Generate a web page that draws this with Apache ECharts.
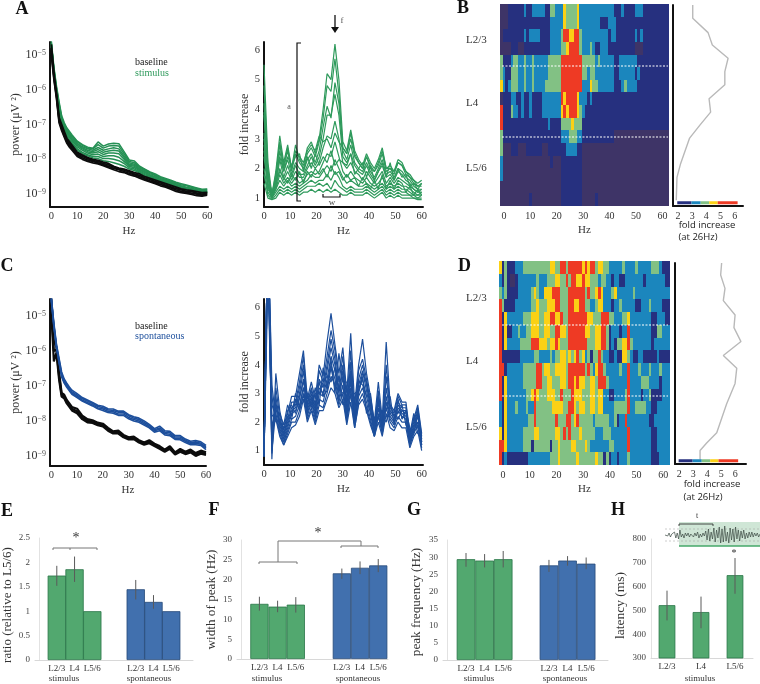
<!DOCTYPE html>
<html><head><meta charset="utf-8">
<style>html,body{margin:0;padding:0;background:#fff}#c{width:760px;height:684px}</style>
<script src="https://cdn.jsdelivr.net/npm/echarts@6/dist/echarts.min.js"></script>
</head><body><div id="c"></div>
<script>
// ---------- DATA ----------
const psdHz=[0,1,2,3,4,5,6,7,8,10,12,14,16,18,20,22,24,26,28,30,32,34,36,38,40,42,44,46,48,50,52,54,56,58,60];
const foldHz=[0,1.5,3,4.5,6,7.5,9,10.5,12,13.5,15,16.5,18,19.5,21,22.5,24,25.5,27,28.5,30,31.5,33,34.5,36,37.5,39,40.5,42,43.5,45,46.5,48,49.5,51,52.5,54,55.5,57,58.5,60];
const logTicks=[-9,-8,-7,-6,-5];
const foldTicks=[1,2,3,4,5,6];
const hzTicks=[0,10,20,30,40,50,60];
const profTicks=[2,3,4,5,6];

// A left: log10 power, stimulus (green) and baseline (black)
const aStim=[
[-4.6,-5.35,-5.9,-6.35,-6.75,-6.95,-7.1,-7.2,-7.3,-7.48,-7.58,-7.65,-7.68,-7.5,-7.62,-7.56,-7.54,-7.55,-7.78,-8.02,-8.05,-8.2,-8.28,-8.36,-8.42,-8.5,-8.55,-8.6,-8.66,-8.7,-8.74,-8.78,-8.82,-8.86,-8.85],
[-4.65,-5.4,-5.95,-6.4,-6.8,-7.0,-7.12,-7.24,-7.34,-7.5,-7.6,-7.68,-7.7,-7.58,-7.68,-7.62,-7.6,-7.62,-7.84,-8.06,-8.1,-8.22,-8.3,-8.38,-8.45,-8.52,-8.58,-8.63,-8.68,-8.73,-8.76,-8.8,-8.84,-8.88,-8.87],
[-4.7,-5.42,-6.0,-6.45,-6.85,-7.03,-7.16,-7.27,-7.37,-7.54,-7.64,-7.7,-7.74,-7.66,-7.74,-7.7,-7.67,-7.7,-7.9,-8.1,-8.14,-8.25,-8.33,-8.41,-8.47,-8.55,-8.6,-8.66,-8.71,-8.76,-8.8,-8.83,-8.87,-8.9,-8.9],
[-4.68,-5.45,-6.02,-6.5,-6.88,-7.06,-7.2,-7.3,-7.4,-7.56,-7.67,-7.74,-7.78,-7.72,-7.8,-7.76,-7.74,-7.76,-7.95,-8.14,-8.17,-8.28,-8.36,-8.44,-8.5,-8.58,-8.63,-8.68,-8.73,-8.78,-8.82,-8.85,-8.89,-8.92,-8.92],
[-4.72,-5.48,-6.05,-6.55,-6.9,-7.1,-7.24,-7.33,-7.44,-7.6,-7.7,-7.78,-7.82,-7.78,-7.86,-7.82,-7.82,-7.84,-8.0,-8.17,-8.2,-8.3,-8.38,-8.46,-8.52,-8.6,-8.65,-8.7,-8.75,-8.8,-8.84,-8.86,-8.9,-8.94,-8.93],
[-4.7,-5.5,-6.08,-6.6,-6.94,-7.13,-7.28,-7.37,-7.47,-7.64,-7.74,-7.82,-7.87,-7.85,-7.92,-7.9,-7.9,-7.94,-8.06,-8.2,-8.24,-8.33,-8.41,-8.48,-8.55,-8.62,-8.67,-8.72,-8.77,-8.82,-8.85,-8.88,-8.92,-8.95,-8.95],
[-4.75,-5.52,-6.1,-6.65,-6.97,-7.16,-7.33,-7.42,-7.52,-7.7,-7.8,-7.87,-7.92,-7.92,-7.98,-7.98,-8.0,-8.04,-8.12,-8.24,-8.28,-8.36,-8.44,-8.5,-8.57,-8.63,-8.69,-8.74,-8.78,-8.83,-8.87,-8.89,-8.93,-8.96,-8.95],
[-4.72,-5.55,-6.12,-6.7,-7.0,-7.18,-7.36,-7.46,-7.56,-7.74,-7.84,-7.9,-7.96,-7.98,-8.04,-8.06,-8.1,-8.14,-8.2,-8.28,-8.32,-8.39,-8.47,-8.53,-8.59,-8.64,-8.7,-8.75,-8.8,-8.84,-8.88,-8.9,-8.94,-8.97,-8.96]];
const aBase=[
[-4.7,-5.5,-6.1,-6.8,-7.0,-7.2,-7.4,-7.5,-7.6,-7.8,-7.88,-7.95,-8.0,-8.03,-8.08,-8.12,-8.2,-8.25,-8.28,-8.33,-8.38,-8.42,-8.5,-8.55,-8.6,-8.65,-8.7,-8.75,-8.8,-8.85,-8.88,-8.9,-8.93,-8.96,-8.95],
[-4.8,-5.6,-6.15,-6.85,-7.08,-7.27,-7.45,-7.55,-7.65,-7.84,-7.92,-7.98,-8.04,-8.06,-8.12,-8.16,-8.22,-8.28,-8.31,-8.36,-8.42,-8.46,-8.53,-8.58,-8.64,-8.68,-8.74,-8.79,-8.84,-8.88,-8.92,-8.93,-8.97,-9.0,-8.98],
[-4.9,-5.65,-6.2,-6.9,-7.13,-7.32,-7.5,-7.6,-7.7,-7.88,-7.96,-8.02,-8.06,-8.1,-8.15,-8.2,-8.26,-8.3,-8.35,-8.4,-8.45,-8.5,-8.56,-8.62,-8.67,-8.72,-8.77,-8.82,-8.88,-8.92,-8.95,-8.97,-9.0,-9.03,-9.0],
[-5.0,-5.7,-6.25,-6.95,-7.18,-7.36,-7.54,-7.65,-7.74,-7.92,-8.0,-8.06,-8.1,-8.13,-8.18,-8.24,-8.3,-8.35,-8.38,-8.44,-8.48,-8.54,-8.6,-8.65,-8.7,-8.76,-8.8,-8.86,-8.92,-8.96,-8.98,-9.01,-9.04,-9.06,-9.03]];

// A right: fold increase, stimulus
const aFold=[
[5.5,2.2,1.1,1.9,3.1,2.2,2.8,2.0,2.8,2.3,2.1,2.7,2.9,2.5,3.0,4.0,5.2,5.0,6.2,5.0,2.9,2.6,3.3,2.6,2.3,2.1,2.5,2.2,2.0,2.3,2.7,2.0,2.1,1.9,2.3,2.2,1.9,1.8,1.6,1.5,1.6],
[4.8,2.0,1.0,1.7,2.9,2.0,2.6,1.9,2.5,2.2,2.0,2.5,2.7,2.4,2.9,3.7,4.8,4.6,5.7,4.5,2.7,2.5,3.0,2.4,2.2,2.0,2.4,2.0,1.9,2.1,2.5,1.9,2.0,1.8,2.2,2.1,1.8,1.7,1.5,1.4,1.4],
[4.2,1.8,1.1,1.5,2.6,1.9,2.3,1.8,2.2,2.0,1.9,2.3,2.5,2.2,2.6,3.4,4.1,3.7,4.9,4.2,2.6,2.3,2.8,2.2,2.0,1.9,2.2,1.9,1.7,2.0,2.3,1.8,1.9,1.7,2.0,1.9,1.7,1.6,1.4,1.3,1.5],
[3.9,1.7,1.0,1.4,2.3,1.7,2.1,1.7,2.1,1.8,1.8,2.1,2.4,2.1,2.4,3.0,3.8,3.8,4.5,3.8,2.4,2.2,2.5,2.1,1.9,1.8,2.1,1.8,1.6,1.9,2.1,1.7,1.8,1.6,1.9,1.8,1.6,1.5,1.3,1.2,1.3],
[3.8,1.9,1.1,1.8,2.8,2.1,2.7,2.0,2.6,2.4,2.2,2.6,2.8,2.6,3.1,2.9,3.0,2.7,3.2,2.9,2.7,2.5,3.2,2.5,2.2,2.0,2.4,2.1,1.9,2.2,2.6,2.0,2.0,1.9,2.2,2.1,1.9,1.7,1.6,1.4,1.5],
[3.2,1.5,1.1,1.4,2.0,1.6,1.9,1.6,1.9,1.7,1.7,2.0,2.2,2.0,2.2,2.7,3.1,3.0,3.6,3.0,2.2,2.0,2.2,1.9,1.8,1.6,1.9,1.7,1.5,1.7,1.9,1.5,1.7,1.5,1.7,1.6,1.5,1.4,1.3,1.2,1.2],
[3.0,1.7,1.2,1.6,2.4,1.9,2.4,2.1,2.4,2.5,1.9,2.4,2.0,2.5,2.1,2.4,2.2,2.6,2.1,2.3,2.2,2.1,2.5,1.8,2.0,2.2,1.7,2.1,1.6,1.9,2.2,1.7,2.2,1.6,2.0,1.7,1.8,1.4,1.5,1.3,1.3],
[2.8,1.4,1.0,1.3,1.8,1.5,1.7,1.5,1.7,1.5,1.6,1.8,1.9,1.8,1.9,2.2,2.5,2.4,2.9,2.4,1.9,1.7,1.9,1.7,1.6,1.5,1.7,1.5,1.4,1.5,1.7,1.4,1.5,1.4,1.5,1.4,1.4,1.3,1.2,1.1,1.2],
[2.6,1.5,1.0,1.5,1.9,1.7,1.5,1.8,1.6,1.9,1.5,1.9,1.7,2.0,1.8,2.0,1.7,2.1,1.8,1.9,1.6,1.8,1.6,1.7,1.4,1.7,1.5,1.3,1.6,1.3,1.8,1.3,1.6,1.3,1.6,1.5,1.2,1.4,1.1,1.3,1.1],
[2.4,1.3,1.1,1.3,1.6,1.4,1.6,1.4,1.5,1.4,1.5,1.6,1.8,1.7,1.7,1.9,2.1,1.9,2.3,2.0,1.7,1.5,1.6,1.5,1.4,1.4,1.5,1.4,1.3,1.4,1.5,1.3,1.4,1.3,1.4,1.3,1.3,1.2,1.1,1.1,1.1],
[2.0,1.2,1.0,1.2,1.4,1.3,1.4,1.3,1.4,1.3,1.4,1.5,1.6,1.5,1.6,1.6,1.8,1.6,1.9,1.7,1.4,1.3,1.4,1.3,1.3,1.3,1.4,1.3,1.2,1.3,1.4,1.2,1.3,1.2,1.3,1.2,1.2,1.1,1.1,1.0,1.1],
[1.8,1.1,0.95,1.1,1.3,1.2,1.3,1.2,1.3,1.2,1.3,1.4,1.4,1.4,1.5,1.4,1.5,1.3,1.6,1.4,1.3,1.2,1.3,1.2,1.2,1.2,1.3,1.2,1.1,1.2,1.3,1.1,1.2,1.1,1.2,1.1,1.1,1.1,1.0,1.0,1.0],
[1.5,1.0,0.95,1.0,1.2,1.1,1.2,1.1,1.2,1.1,1.2,1.2,1.3,1.2,1.3,1.2,1.3,1.2,1.3,1.2,1.1,1.1,1.2,1.1,1.1,1.1,1.2,1.1,1.0,1.1,1.2,1.0,1.1,1.0,1.1,1.0,1.0,1.0,1.0,0.95,0.95]];

// C left: log10 power, spontaneous (blue) and baseline (black)
const cSpon=[
[-4.45,-5.2,-5.8,-6.2,-6.6,-6.8,-6.92,-7.03,-7.12,-7.22,-7.33,-7.4,-7.47,-7.55,-7.58,-7.65,-7.66,-7.72,-7.72,-7.82,-7.88,-7.92,-8.0,-8.1,-8.22,-8.15,-8.28,-8.3,-8.42,-8.42,-8.52,-8.58,-8.56,-8.6,-8.7],
[-4.5,-5.25,-5.85,-6.25,-6.65,-6.84,-6.96,-7.07,-7.16,-7.26,-7.36,-7.43,-7.5,-7.58,-7.62,-7.68,-7.7,-7.75,-7.76,-7.85,-7.92,-7.96,-8.04,-8.13,-8.25,-8.2,-8.32,-8.34,-8.46,-8.46,-8.55,-8.62,-8.6,-8.64,-8.74],
[-4.55,-5.3,-5.88,-6.3,-6.7,-6.88,-7.0,-7.1,-7.2,-7.3,-7.4,-7.47,-7.54,-7.62,-7.66,-7.72,-7.74,-7.8,-7.8,-7.9,-7.96,-8.0,-8.08,-8.17,-8.28,-8.24,-8.36,-8.38,-8.5,-8.5,-8.58,-8.65,-8.64,-8.67,-8.78],
[-4.5,-5.28,-5.9,-6.33,-6.74,-6.92,-7.04,-7.14,-7.24,-7.33,-7.43,-7.5,-7.57,-7.65,-7.7,-7.76,-7.78,-7.84,-7.84,-7.94,-8.0,-8.04,-8.12,-8.2,-8.32,-8.28,-8.4,-8.42,-8.53,-8.54,-8.62,-8.68,-8.68,-8.7,-8.82]];
const cBase=[
[-4.5,-5.7,-5.9,-6.6,-7.2,-7.25,-7.4,-7.5,-7.6,-7.65,-7.85,-7.95,-7.98,-8.05,-8.08,-8.2,-8.3,-8.28,-8.4,-8.47,-8.45,-8.55,-8.62,-8.55,-8.65,-8.72,-8.82,-8.72,-8.9,-8.8,-8.88,-8.82,-8.92,-8.85,-8.9],
[-4.7,-6.0,-5.95,-6.7,-7.25,-7.3,-7.45,-7.55,-7.65,-7.72,-7.9,-8.0,-8.02,-8.08,-8.12,-8.24,-8.33,-8.32,-8.44,-8.5,-8.49,-8.58,-8.65,-8.6,-8.68,-8.76,-8.85,-8.76,-8.93,-8.84,-8.92,-8.86,-8.96,-8.9,-8.94],
[-4.9,-6.3,-6.05,-6.8,-7.3,-7.35,-7.5,-7.6,-7.7,-7.78,-7.95,-8.04,-8.06,-8.12,-8.16,-8.28,-8.36,-8.36,-8.47,-8.53,-8.52,-8.62,-8.68,-8.64,-8.72,-8.8,-8.88,-8.8,-8.96,-8.88,-8.95,-8.9,-9.0,-8.94,-8.97]];

// C right: fold increase, spontaneous
const cFold=[
[1.0,9,0.7,3.7,2.4,1.7,2.3,2.9,2.9,3.7,4.5,2.8,3.4,2.8,4.0,3.6,4.8,5.8,4.7,3.7,4.6,3.0,5.1,2.6,4.0,4.9,3.7,2.9,2.0,3.4,2.1,4.8,2.6,2.4,3.0,2.7,2.7,1.6,2.1,2.6,1.6],
[0.9,9,0.9,3.2,2.2,1.6,2.1,2.7,2.7,3.4,4.3,2.6,3.2,2.6,3.8,3.4,4.3,5.2,4.5,3.4,4.3,2.7,4.5,2.3,3.8,4.2,3.5,2.7,1.8,3.1,1.9,4.0,2.5,2.3,2.9,2.6,2.6,1.5,2.0,2.5,1.5],
[0.8,8,1.2,2.9,2.0,1.5,2.0,2.5,2.6,3.2,4.0,2.5,3.0,2.4,3.5,3.2,4.0,4.9,4.2,3.1,4.0,2.5,4.1,2.1,3.5,4.0,3.3,2.5,1.7,2.9,1.8,3.6,2.4,2.2,2.7,2.5,2.5,1.4,1.9,2.4,1.4],
[0.9,9,1.0,2.4,2.3,1.9,2.6,2.2,3.0,2.5,3.2,2.9,2.5,3.2,2.6,3.9,3.2,4.2,3.0,4.4,3.4,3.4,2.9,3.0,3.1,3.7,3.4,2.6,2.1,2.4,2.4,2.4,2.9,1.9,2.8,2.1,2.4,1.8,1.6,2.3,1.3],
[0.9,9,1.5,2.7,1.9,1.4,1.9,2.4,2.5,3.0,3.8,2.4,2.9,2.3,3.2,3.0,3.8,4.6,4.0,3.0,3.8,2.3,3.8,2.0,3.3,3.8,3.1,2.4,1.6,2.7,1.7,3.2,2.3,2.1,2.6,2.4,2.4,1.3,1.8,2.3,1.3],
[0.8,8,1.6,2.6,2.0,1.8,2.4,2.6,2.3,2.9,3.4,3.0,2.6,3.0,3.0,3.4,3.6,3.4,3.9,3.2,3.0,3.1,3.3,2.7,3.4,3.3,2.9,3.0,1.9,2.8,2.0,2.2,2.3,2.4,2.3,2.6,1.9,1.6,2.3,1.8,1.4],
[0.8,7,1.8,2.5,1.8,1.3,1.8,2.3,2.4,2.8,3.5,2.3,2.8,2.2,3.0,2.9,3.5,4.3,3.8,2.8,3.6,2.2,3.5,1.9,3.1,3.5,2.9,2.3,1.6,2.5,1.7,2.9,2.2,2.0,2.5,2.3,2.2,1.3,1.8,2.2,1.2],
[0.9,9,2.9,2.0,2.1,1.5,2.2,2.1,2.8,2.4,2.9,2.7,3.1,2.5,3.4,2.9,3.1,3.9,3.2,3.6,2.6,2.8,3.6,2.4,3.0,3.6,2.3,2.8,1.8,2.2,2.2,2.0,2.6,2.2,2.1,2.4,2.3,1.4,2.2,1.6,1.5],
[0.9,9,2.2,2.3,1.7,1.3,1.7,2.1,2.2,2.6,3.2,2.2,2.7,2.1,2.8,2.7,3.3,4.0,3.5,2.7,3.3,2.1,3.2,1.9,2.9,3.2,2.7,2.1,1.5,2.3,1.6,2.7,2.1,1.9,2.4,2.2,2.1,1.2,1.7,2.0,1.2],
[0.8,8,2.6,2.2,1.6,1.2,1.6,2.0,2.0,2.4,3.0,2.1,2.5,2.0,2.6,2.5,3.0,3.6,3.3,2.6,3.0,2.0,3.0,1.8,2.7,3.0,2.5,2.0,1.5,2.2,1.6,2.5,2.0,1.8,2.2,2.0,2.0,1.2,1.6,1.9,1.1],
[0.8,9,3.3,2.1,1.5,1.2,1.5,1.8,1.9,2.2,2.8,2.0,2.4,1.9,2.4,2.4,2.8,3.2,3.0,2.5,2.8,1.9,2.7,1.8,2.6,2.8,2.4,1.9,1.5,2.0,1.5,2.3,1.8,1.7,2.0,1.8,1.8,1.1,1.5,1.7,1.0]];

// Heat maps: each row is "level:columns" runs; levels index heatColors
const heatColors=['#3e3467','#26307f','#1b86bd','#82c184','#fbd115','#ee3a24'];
const heatB=[
"0:3 1:6 2:1 1:2 2:5 1:2 3:2 2:3 4:1 3:4 4:1 2:13 1:3 2:1 1:4 2:3 1:10",
"0:3 1:16 2:5 4:1 3:4 4:1 2:8 1:3 2:3 1:20",
"0:1 1:8 2:1 1:1 2:4 1:4 2:4 3:1 5:2 4:2 5:2 3:1 2:10 1:1 2:2 1:7 2:1 1:1 2:1 1:10",
"0:4 1:3 0:2 1:10 2:4 3:2 4:1 5:4 3:1 2:3 3:1 2:1 1:2 2:3 1:10 0:3 1:10",
"3:1 1:3 2:1 3:2 2:2 3:1 2:2 3:1 2:5 3:5 5:8 3:5 2:1 3:1 2:5 1:2 2:7 1:12",
"3:1 2:1 1:2 3:3 2:2 3:1 2:2 3:1 2:5 3:5 5:8 3:2 2:1 3:2 2:7 1:2 2:6 1:1 2:1 1:10",
"4:1 2:1 1:1 2:1 3:3 2:2 3:1 2:2 3:1 2:4 3:6 5:8 2:3 4:1 3:2 2:6 1:3 2:1 3:1 2:4 1:12",
"0:1 1:3 2:2 1:2 2:1 1:2 2:1 1:4 2:7 5:1 4:1 5:4 4:1 2:3 1:1 2:1 1:28",
"5:1 1:3 3:1 2:2 1:1 2:1 1:2 2:1 1:4 2:7 4:1 5:1 4:1 5:3 4:1 3:1 2:1 1:33",
"5:1 1:17 2:1 1:4 3:4 4:1 3:3 1:33",
"3:1 1:22 2:3 3:3 2:2 1:12 0:21",
"3:1 0:3 1:3 0:3 1:6 0:2 1:7 2:4 1:2 0:33",
"2:1 0:18 1:1 0:3 1:8 0:33",
"2:1 0:22 1:8 0:33",
"0:23 1:8 0:33",
"0:11 1:1 0:11 1:8 0:5 1:1 0:27"];
const heatD=[
"4:1 1:1 3:1 1:3 2:3 3:10 4:2 3:2 5:2 3:1 5:5 4:1 5:1 4:1 5:2 3:1 4:2 3:2 2:5 3:1 2:4 3:1 2:5 3:3 2:1 1:3",
"2:1 1:1 3:1 1:1 0:2 1:1 2:7 3:1 2:3 3:3 4:2 3:2 5:1 3:1 5:2 4:2 5:1 4:2 3:3 2:1 3:2 2:2 1:1 2:2 1:2 2:7 1:1 2:7 1:2",
"3:1 2:1 3:1 1:4 2:5 3:1 4:1 3:1 2:2 4:3 5:3 3:3 5:6 3:1 5:1 3:2 4:1 5:1 4:1 2:3 3:1 4:1 2:6 3:1 2:13",
"5:1 3:1 1:4 2:6 3:2 4:1 3:3 4:3 5:2 3:3 5:2 4:2 5:2 3:2 2:2 3:1 4:2 2:3 1:1 2:2 3:1 2:5 1:2 2:3 3:1 2:4 1:3",
"5:1 1:1 4:1 2:6 3:3 4:3 3:2 4:2 5:2 4:2 5:1 3:2 5:7 4:2 3:3 5:3 3:2 2:3 3:2 4:1 2:8 1:2 2:3 1:2",
"5:1 1:1 4:1 1:2 2:2 3:1 2:2 3:2 4:3 3:2 4:2 3:2 5:2 4:2 3:1 5:6 4:2 3:2 4:2 5:2 3:1 1:1 2:3 1:1 2:2 5:1 2:8 1:2 3:2 2:3",
"5:1 1:1 4:1 2:5 3:4 5:3 4:3 3:1 4:2 5:1 4:1 3:3 5:7 3:3 4:2 5:2 3:1 1:1 2:1 1:1 3:2 4:2 5:1 3:1 2:7 1:1 2:6",
"5:1 1:7 2:5 3:2 2:4 3:1 2:1 3:2 4:2 3:1 4:1 3:1 4:1 5:1 3:1 4:1 2:1 3:1 1:1 3:1 3:1 5:1 3:1 2:2 1:2 2:1 1:2 4:2 3:1 2:1 1:2 2:2 1:5 2:1 1:5",
"5:2 1:1 2:6 3:5 5:2 3:1 4:2 3:2 4:4 3:1 5:6 3:1 5:1 3:1 2:1 4:1 5:2 3:1 2:5 3:1 2:2 5:1 2:3 3:1 2:3 3:1 2:3 3:1 2:3",
"5:1 1:1 4:1 2:6 3:5 5:2 3:2 4:2 3:3 4:2 3:1 5:2 4:1 5:1 4:2 3:2 4:2 3:1 5:3 3:1 2:7 5:1 2:4 3:3 2:4 1:1 2:3",
"5:1 1:1 4:1 2:7 3:2 4:1 5:1 4:1 3:3 4:3 3:2 5:1 3:3 5:1 4:3 3:3 4:2 3:1 4:2 2:2 1:2 2:4 3:1 5:1 2:4 1:1 2:2 3:1 1:4 2:3",
"2:1 1:1 4:1 2:3 3:1 2:3 3:1 2:2 5:1 3:6 4:3 4:1 3:2 5:2 4:1 3:1 4:2 3:2 4:2 3:1 4:2 2:4 3:5 5:1 2:2 3:4 2:2 1:2 2:5",
"2:1 1:1 4:1 2:8 3:2 5:1 3:7 5:1 3:3 5:2 3:1 4:1 5:1 3:5 2:1 3:5 2:2 3:1 1:1 2:2 5:1 2:8 1:2 2:5",
"4:1 1:1 4:1 2:6 3:4 4:2 3:5 3:1 4:2 3:1 5:1 3:1 5:1 3:3 4:1 3:5 2:3 3:3 2:6 5:1 2:8 1:2 2:5",
"5:2 4:1 2:6 3:3 1:1 3:6 1:1 3:2 4:1 3:4 4:2 3:3 4:1 3:1 2:7 3:2 2:5 5:1 2:8 1:2 2:5",
"5:1 1:1 2:1 1:8 2:8 3:3 4:1 3:6 4:1 3:6 4:1 3:2 1:1 3:1 1:1 2:2 1:1 2:3 3:1 2:8 1:3 2:4"];

// Fold increase at 26 Hz against depth (rows from the top)
const profB=[3.04,3.04,4.12,4.42,5.53,5.3,5.3,4.19,4.3,3.53,2.82,2.19,1.93,1.88];
const depthB=[0,1.05,2.18,3.15,4.2,5.26,6.3,7.4,8.45,9.5,10.5,12.5,13.6,15.4];
const profD=[5.02,4.95,5.26,5.14,5.98,5.9,6.4,5.14,6.1,5.98,5.38,4.67,3.95,3.48,3.48];
const depthD=[0,0.95,2,2.97,4.1,5.1,6.2,7.3,8.3,9.5,11.1,13.4,14.2,14.8,15.5];
const scaleStops=[1.95,2.95,3.6,4.2,4.8,6.2];
const scaleColors=['#26307f','#1b86bd','#82c184','#fbd115','#ee3a24'];

// Bars
const barCats=['L2/3','L4','L5/6'];
const eStim=[1.73,1.86,1.0], eSpon=[1.45,1.19,1.0];
const eErr=[[1.52,1.93],[1.6,2.12],null,[1.24,1.64],[1.05,1.33],null];
const fStim=[13.9,13.2,13.7], fSpon=[21.6,23.0,23.6];
const fErr=[[12.2,15.7],[11.8,14.7],[11.7,15.6],[20.2,22.8],[21.4,24.6],[21.9,25.2]];
const gStim=[29.4,29.0,29.4], gSpon=[27.6,29.0,28.1];
const gErr=[[27.2,31.2],[27,30.9],[27,31.8],[25.7,29.2],[27.5,30.3],[26.5,29.9]];
const hStim=[522,493,648];
const hErr=[[458,583],[425,558],[570,720]];
const traceH=[0,1,-1,2,-2,1,-1,3,-3,2,-4,5,-2,1,-3,2,-1,2,-2,1,0,-2,2,-1,3,-3,1,-2,2,-1,4,-5,6,-6,3,-4,7,-7,5,-3,8,-8,6,-7,9,-6,3,-8,7,-5,6,-7,8,-4,5,-6,4,-3,5,-4,2,-3,3,-2,3,-2,2,-1,2,-2,1];

// ---------- CHART ----------
const SERIF='"Liberation Serif","Times New Roman",serif', SANS='"Open Sans",sans-serif';
const GREEN='#2f9a5c', BLUE='#1d4f9c', BLACK='#0c0c0c';
const grid=[],xAxis=[],yAxis=[],series=[];
function addGrid(l,t,r,b){grid.push({left:l,top:t,width:r-l,height:b-t,containLabel:false});return grid.length-1;}
function lineAxis(x){return {show:true,onZero:false,lineStyle:{color:'#111',width:x||2}};}
const lbl=(o)=>Object.assign({fontFamily:SERIF,fontSize:10,color:'#333',margin:4},o||{});
function addLines(g,xs,rows,color,width){rows.forEach(r=>series.push({type:'line',xAxisIndex:g,yAxisIndex:g,data:r.map((v,i)=>[xs[i],v]),showSymbol:false,symbol:'none',silent:true,lineStyle:{color,width},itemStyle:{color}}));}
function curvePanel(l,t,r,b,xr,yr,yTicks,yFmt,yName,gap,xName,xs,sets){
  const g=addGrid(l,t,r,b);
  xAxis.push({type:'value',gridIndex:g,min:xr[0],max:xr[1],splitLine:{show:false},axisLine:lineAxis(),axisTick:{show:false},
    axisLabel:lbl({fontSize:10.5,customValues:hzTicks,showMinLabel:true,showMaxLabel:true}),name:xName,nameLocation:'middle',nameGap:19,nameTextStyle:{fontFamily:SERIF,fontSize:11,color:'#333'}});
  yAxis.push({type:'value',gridIndex:g,min:yr[0],max:yr[1],splitLine:{show:false},axisLine:lineAxis(),axisTick:{show:false},
    axisLabel:lbl({fontSize:10.5,customValues:yTicks,formatter:yFmt,rich:{a:{fontFamily:SERIF,fontSize:12,color:'#333'},b:{fontFamily:SERIF,fontSize:8,color:'#555',verticalAlign:'top',lineHeight:12}}}),
    name:yName,nameLocation:'middle',nameGap:gap,nameRotate:90,nameTextStyle:{fontFamily:SERIF,fontSize:12,color:'#333'}});
  sets.forEach(s=>addLines(g,xs,s[0],s[1],s[2]));
  return g;
}
const expFmt=v=>'{a|10}{b|'+String(v).replace('-','−')+'}';
curvePanel(50,42,208,207,[-0.5,60.3],[-9.37,-4.63],logTicks,expFmt,'power (μV ²)',22,'Hz',psdHz,[[aStim,'#259054',1.5],[aBase,BLACK,1.8]]);
curvePanel(264,42,423,207,[0,60.5],[0.7,6.27],foldTicks,v=>String(v),'fold increase',13,'Hz',foldHz,[[aFold,GREEN,1.2]]);
curvePanel(50,299,206,466,[-0.5,60],[-9.29,-4.51],logTicks,expFmt,'power (μV ²)',22,'Hz',psdHz,[[cBase,BLACK,2.2],[cSpon,BLUE,1.6]]);
curvePanel(264,299,423,465,[0,60.5],[0.5,6.3],foldTicks,v=>String(v),'fold increase',13,'Hz',foldHz,[[cFold,BLUE,1.2]]);

const colLabels=[];for(let c=-1;c<63;c++)colLabels.push(String(c));
function heatPanel(rows,l,t,r,b){
  const g=addGrid(l,t,r,b);
  xAxis.push({type:'category',gridIndex:g,data:colLabels,axisLine:{show:false},axisTick:{show:false},splitLine:{show:false},
    axisLabel:lbl({interval:(i,v)=>hzTicks.includes(+v),hideOverlap:false,margin:5}),
    name:'Hz',nameLocation:'middle',nameGap:19,nameTextStyle:{fontFamily:SERIF,fontSize:11,color:'#333'}});
  yAxis.push({type:'category',gridIndex:g,inverse:true,data:rows.map((_,i)=>String(i)),axisLine:{show:false},axisTick:{show:false},axisLabel:{show:false},splitLine:{show:false}});
  const data=[];
  rows.forEach((row,ri)=>{let c=0,last=0;row.split(' ').forEach(tok=>{const[lv,n]=tok.split(':').map(Number);last=lv;for(let k=0;k<n&&c<64;k++)data.push([c++,ri,lv]);});while(c<64)data.push([c++,ri,last]);});
  series.push({type:'custom',xAxisIndex:g,yAxisIndex:g,data,silent:true,progressive:0,encode:{x:0,y:1},
    renderItem:(p,api)=>{const C=api.coord([api.value(0),api.value(1)]),S=api.size([1,1]);
      const x0=Math.round(C[0]-S[0]/2),x1=Math.round(C[0]+S[0]/2),y0=Math.round(C[1]-S[1]/2),y1=Math.round(C[1]+S[1]/2);
      return {type:'rect',shape:{x:x0,y:y0,width:x1-x0,height:y1-y0},style:{fill:heatColors[api.value(2)]}};}});
}
function profilePanel(prof,depth,l,t,r,b,xmin,xmax,barDepth){
  const g=addGrid(l,t,r,b);
  xAxis.push({type:'value',gridIndex:g,min:xmin,max:xmax,splitLine:{show:false},axisLine:lineAxis(),axisTick:{show:false},axisLabel:lbl({customValues:profTicks,margin:5})});
  yAxis.push({type:'value',gridIndex:g,inverse:true,min:0,max:15.86,splitLine:{show:false},axisLine:lineAxis(),axisTick:{show:false},axisLabel:{show:false}});
  series.push({type:'line',xAxisIndex:g,yAxisIndex:g,data:prof.map((v,i)=>[v,depth[i]]),symbol:'none',silent:true,lineStyle:{color:'#b9b9b9',width:1.4}});
  scaleColors.forEach((c,i)=>series.push({type:'line',xAxisIndex:g,yAxisIndex:g,data:[[scaleStops[i],barDepth],[scaleStops[i+1],barDepth]],symbol:'none',silent:true,lineStyle:{color:c,width:3,cap:'butt'}}));
}
heatPanel(heatB,500,4,669,206);
profilePanel(profB,depthB,673,5,743,206,1.65,6.58,15.6);
heatPanel(heatD,499,261,670,465);
profilePanel(profD,depthD,675,263,746,464,1.69,6.76,15.6);

function barPanel(l,r,t,b,a,step,slots,yr,interval,stim,spon,err,yName,gap,bw,fs,pad){
  const g=addGrid(l,t,r,b);
  const lx=(l-a)/step, rx=(r-a)/step;
  xAxis.push({type:'value',gridIndex:g,min:lx,max:rx,splitLine:{show:false},axisLine:{show:true,onZero:false,lineStyle:{color:'#d8d8d8',width:1}},axisTick:{show:false},
    axisLabel:lbl({fontSize:9,customValues:slots,showMinLabel:true,showMaxLabel:true,formatter:v=>barCats[slots.indexOf(v)%3]})});
  yAxis.push({type:'value',gridIndex:g,min:yr[0],max:yr[1],interval,splitLine:{show:false},axisLine:{show:true,lineStyle:{color:'#e2e2e2',width:1}},axisTick:{show:false},
    axisLabel:lbl({fontSize:9,color:'#444',margin:5}),name:yName,nameLocation:'middle',nameGap:gap,nameRotate:90,nameTextStyle:{fontFamily:SERIF,fontSize:fs,color:'#333',padding:[0,pad,0,0]}});
  const barSer=(vals,off,color,border)=>({type:'bar',xAxisIndex:g,yAxisIndex:g,barGap:'-100%',barWidth:bw,silent:true,data:vals.map((v,i)=>[slots[i+off],v]),itemStyle:{color,borderColor:border,borderWidth:0.8}});
  series.push(barSer(stim,0,'#52a86f','#2a7548'));
  if(spon.length)series.push(barSer(spon,3,'#4170ae','#274a78'));
  series.push({type:'custom',xAxisIndex:g,yAxisIndex:g,silent:true,data:err.map((e,i)=>e?[slots[i],e[0],e[1]]:null).filter(Boolean),encode:{x:0,y:[1,2]},z:5,
    renderItem:(p,api)=>{const x=api.value(0),A=api.coord([x,api.value(1)]),B=api.coord([x,api.value(2)]);return {type:'line',shape:{x1:A[0],y1:A[1],x2:B[0],y2:B[1]},style:{stroke:'#5a5a5a',lineWidth:1}};}});
}
barPanel(30,193,538,660,34.2,18.3,[1,2,3,5.45,6.45,7.45],[0,2.5],0.5,eStim,eSpon,eErr,'ratio (relative to L5/6)',21,18.3,13,12);
barPanel(237,388,540,659,241.2,18.2,[1,2,3,5.53,6.53,7.53],[0,30],5,fStim,fSpon,fErr,'width of peak (Hz)',19,18.2,13.2,0);
barPanel(443,608,540,660,447.4,18.6,[1,2,3,5.46,6.46,7.46],[0,35],5,gStim,gSpon,gErr,'peak frequency (Hz)',20,18.6,13.2,4);
barPanel(651,753,539,658,633,34,[1,2,3],[300,800],100,hStim,[],hErr,'latency (ms)',24,16.7,13.5,14);

// inset trace of H
const tg=addGrid(665,525,760,545);
xAxis.push({type:'category',gridIndex:tg,show:false,boundaryGap:false,data:traceH.map((_,i)=>i)});
yAxis.push({type:'value',gridIndex:tg,show:false,min:-10,max:10});
series.push({type:'line',xAxisIndex:tg,yAxisIndex:tg,data:traceH,symbol:'none',silent:true,z:6,lineStyle:{color:'#3c4a44',width:0.7}});

// ---------- Texts and annotations ----------
const T=(x,y,text,o)=>({type:'text',x,y,z:20,style:Object.assign({text,fill:'#333',font:'10px '+SERIF,textAlign:'center',textVerticalAlign:'middle'},o||{})});
const P=(pts,stroke,w,dash,z)=>({type:'polyline',z:z||20,shape:{points:pts},style:{stroke,lineWidth:w,fill:null,lineDash:dash||null}});
const bigFont='bold 18px '+SERIF;
const g=[
 T(22,9,'A',{font:bigFont,fill:'#111'}),T(457,8,'B',{font:bigFont,fill:'#111',textAlign:'left'}),
 T(7,266,'C',{font:bigFont,fill:'#111'}),T(458,266,'D',{font:bigFont,fill:'#111',textAlign:'left'}),
 T(7,511,'E',{font:bigFont,fill:'#111'}),T(214,510,'F',{font:bigFont,fill:'#111'}),T(414,510,'G',{font:bigFont,fill:'#111'}),T(618,510,'H',{font:bigFont,fill:'#111'}),
 T(135,62,'baseline',{textAlign:'left',font:'10px '+SERIF,fill:'#222'}),T(135,73,'stimulus',{textAlign:'left',font:'10px '+SERIF,fill:'#2f9a5c'}),
 T(135,326,'baseline',{textAlign:'left',font:'10px '+SERIF,fill:'#222'}),T(135,336,'spontaneous',{textAlign:'left',font:'10px '+SERIF,fill:BLUE}),
 // annotations of A right
 P([[301,43],[297,43],[297,201],[301,201]],'#111',1.2),T(289,107,'a',{font:'8px '+SERIF,fill:'#555'}),
 P([[335,15],[335,31]],'#111',1.3),{type:'polygon',z:20,shape:{points:[[331,27],[339,27],[335,33]]},style:{fill:'#111'}},T(342,21,'f',{font:'9px '+SERIF,fill:'#555'}),
 P([[323,194],[323,197],[340,197],[340,194]],'#111',1.2),T(332,203,'w',{font:'9px '+SERIF,fill:'#444'}),
 // heat map labels and depth markers
 T(466,40,'L2/3',{textAlign:'left',font:'11px '+SERIF}),T(466,103,'L4',{textAlign:'left',font:'11px '+SERIF}),T(466,168,'L5/6',{textAlign:'left',font:'11px '+SERIF}),
 T(466,298,'L2/3',{textAlign:'left',font:'11px '+SERIF}),T(466,361,'L4',{textAlign:'left',font:'11px '+SERIF}),T(466,427,'L5/6',{textAlign:'left',font:'11px '+SERIF}),
 P([[502,66],[668,66]],'#fff',1.2,[2,1.5]),P([[502,137],[668,137]],'#fff',1.2,[2,1.5]),
 P([[502,325],[668,325]],'#fff',1.2,[2,1.5]),P([[502,396],[668,396]],'#fff',1.2,[2,1.5]),
 T(707,225,'fold increase',{font:'9.5px '+SANS,fill:'#222'}),T(698,237,'(at 26Hz)',{font:'9.5px '+SANS,fill:'#222'}),
 T(712,484,'fold increase',{font:'9.5px '+SANS,fill:'#222'}),T(703,497,'(at 26Hz)',{font:'9.5px '+SANS,fill:'#222'}),
 // group labels
 T(64,679,'stimulus',{font:'9px '+SERIF}),T(149,679,'spontaneous',{font:'9px '+SERIF}),
 T(267,679,'stimulus',{font:'9px '+SERIF}),T(358,679,'spontaneous',{font:'9px '+SERIF}),
 T(479,679,'stimulus',{font:'9px '+SERIF}),T(565,679,'spontaneous',{font:'9px '+SERIF}),
 T(700,679,'stimulus',{font:'9px '+SERIF}),
 // significance brackets
 P([[53,550],[53,548],[97,548],[97,550]],'#777',1),P([[70,548],[70,550]],'#777',1),T(76,538,'*',{font:'14px '+SERIF,fill:'#333'}),
 P([[259,564],[259,562],[297,562],[297,564]],'#777',1),P([[341,548],[341,546],[378,546],[378,548]],'#777',1),
 P([[278,562],[278,541],[361,541],[361,546]],'#777',1),T(318,533,'*',{font:'14px '+SERIF,fill:'#333'}),
 T(734,553,'*',{font:'10px '+SERIF,fill:'#333'}),
 // inset of H
 {type:'rect',z:1,shape:{x:679,y:522,width:81,height:24},style:{fill:'#cfe6d6'}},
 P([[679,546],[760,546]],'#45a768',1.5,null,3),
 P([[665,529],[760,529]],'#999',0.5,[2,2],3),P([[665,541],[760,541]],'#999',0.5,[2,2],3),
 P([[679,526],[679,524],[713,524],[713,526]],'#222',0.8),T(697,516,'t',{font:'8px '+SERIF})
];

const chart=echarts.init(document.getElementById('c'),null,{renderer:'canvas'});
chart.setOption({animation:false,backgroundColor:'#fff',grid,xAxis,yAxis,series,graphic:{elements:g}});
</script></body></html>
